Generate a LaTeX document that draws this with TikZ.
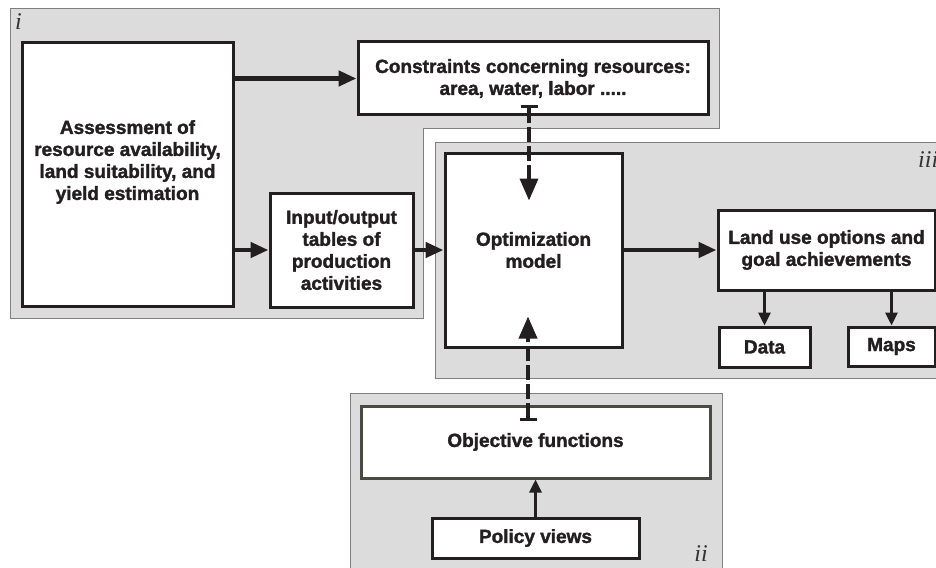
\documentclass[tikz,border=0pt]{standalone}
\usepackage{fontspec}
\setmainfont{Liberation Sans}[BoldFeatures={FakeBold=1.6}]
\newfontfamily\labfont{Liberation Serif}
\usetikzlibrary{arrows.meta,calc}
\definecolor{panelgray}{HTML}{DCDCDC}
\definecolor{panelline}{HTML}{7F7F7F}
\definecolor{ink}{HTML}{231F20}
\definecolor{objline}{HTML}{4A4A42}
\begin{document}
\begin{tikzpicture}[x=1pt,y=-1pt,
 panel/.style={fill=panelgray,draw=panelline,line width=1pt},
 box/.style={draw=ink,fill=white,line width=3pt,inner sep=0pt,font=\fontsize{19}{22}\selectfont\bfseries,align=center,text=ink},
 txt/.style={font=\fontsize{19}{22}\selectfont\bfseries,align=center,text=ink,inner sep=0pt},
 arr/.style={draw=ink,line width=4.5pt,-{Triangle[length=18pt,width=15pt]}},
 sarr/.style={draw=ink,line width=3pt,-{Triangle[length=13pt,width=12pt]}},
 darr/.style={draw=ink,line width=3.5pt,dash pattern=on 15pt off 4pt,{Bar[width=17pt,line width=3pt]}-{Triangle[length=22pt,width=18pt]}},
 lab/.style={font=\fontsize{24}{24}\selectfont\labfont\itshape,inner sep=0pt,text=black!80}
]
\useasboundingbox (0,0) rectangle (936,567);
% panels
\draw[panel] (10,9) -- (719,9) -- (719,128) -- (423,128) -- (423,318) -- (10,318) -- cycle;
\draw[panel] (435,142) rectangle (945,378);
\draw[panel] (350,393) rectangle (722,575);
\node[lab,anchor=base west] (li) at (15,30) {i};
\node[lab,anchor=base west] (liii) at (918,167) {iii};
\node[lab,anchor=base east] (lii) at (708,561) {ii};
% boxes
\node[box,minimum width=211pt,minimum height=263pt] (assess) at (127.5,174.5) {};
\node[txt] (assesstxt) at (127.5,162) {Assessment of\\resource availability,\\land suitability, and\\yield estimation};
\node[box,minimum width=350pt,minimum height=73pt] (cons) at (533,78.5) {Constraints concerning resources:\\area, water, labor .....};
\node[box,minimum width=143pt,minimum height=114pt] (io) at (341.5,250) {Input/output\\tables of\\production\\activities};
\node[box,minimum width=177pt,minimum height=194pt] (opt) at (533.5,250) {Optimization\\model};
\node[box,minimum width=217pt,minimum height=80pt] (land) at (826.5,250) {Land use options and\\goal achievements};
\node[box,minimum width=91pt,minimum height=40pt] (data) at (764.5,347) {Data};
\node[box,minimum width=87pt,minimum height=39pt] (maps) at (891.5,346.5) {Maps};
\node[box,draw=objline,minimum width=349pt,minimum height=72pt] (obj) at (535.5,442) {Objective functions};
\node[box,minimum width=207pt,minimum height=40pt] (policy) at (535.5,538) {Policy views};
% connectors
\draw[arr] (assess.east |- cons.west) -- (cons.west);
\draw[arr] (assess.east |- io.west) -- (io.west);
\draw[arr] (io.east) -- (opt.west |- io.east);
\draw[arr] (opt.east |- land.west) -- (land.west);
\draw[sarr] (land.south -| data) -- (data.north);
\draw[sarr] (land.south -| maps) -- (maps.north);
\draw[sarr] (policy.north) -- (obj.south);
\draw[darr] ([xshift=-4pt,yshift=11pt]cons.south) -- ([xshift=-4.5pt,yshift=-49pt]opt.north);
\draw[darr] ([xshift=-7.5pt,yshift=-16pt]obj.north) -- ([xshift=-5.5pt,yshift=32pt]opt.south);
\end{tikzpicture}
\end{document}
